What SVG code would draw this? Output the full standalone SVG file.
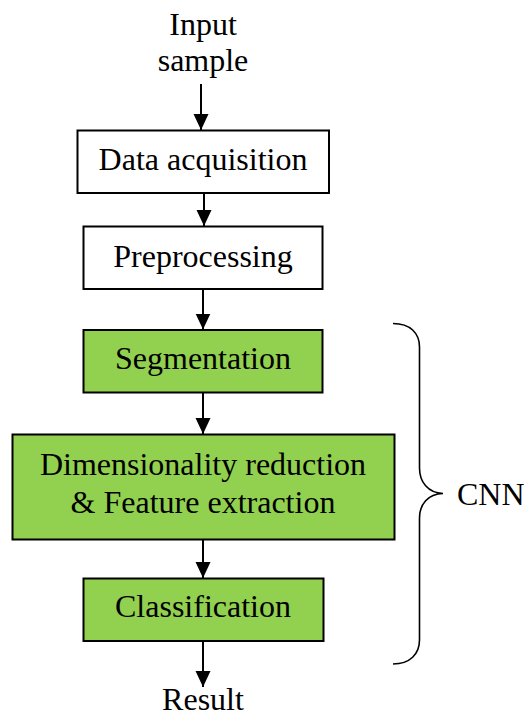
<svg xmlns="http://www.w3.org/2000/svg" width="524" height="713" viewBox="0 0 524 713">
  <defs>
    <marker id="arrow" markerUnits="userSpaceOnUse" markerWidth="16" markerHeight="16" viewBox="0 0 16 16" refX="16" refY="8" orient="auto">
      <path d="M0,0.5 L16,8 L0,15.5 z" fill="#000"/>
    </marker>
    <style>
      text { font-family: "Liberation Serif", "Times New Roman", serif; font-size: 32px; fill: #000; }
      .box { stroke: #000; stroke-width: 2; }
      .plain { fill: #fff; }
      .cnn { fill: #92D050; }
      .link { stroke: #000; stroke-width: 2; fill: none; marker-end: url(#arrow); }
      .mid { text-anchor: middle; }
    </style>
  </defs>
  <rect width="524" height="713" fill="#fff"/>

  <g id="input">
    <text class="mid" x="203" y="35">Input</text>
    <text class="mid" x="203" y="71">sample</text>
  </g>

  <g id="acquisition">
    <rect class="box plain" x="77.5" y="130.5" width="251.5" height="62.5"/>
    <text class="mid" x="203" y="170">Data acquisition</text>
  </g>

  <g id="preprocessing">
    <rect class="box plain" x="83.5" y="226.5" width="239" height="62.5"/>
    <text class="mid" x="203" y="267">Preprocessing</text>
  </g>

  <g id="segmentation">
    <rect class="box cnn" x="83.5" y="330" width="239" height="62.5"/>
    <text class="mid" x="203" y="369">Segmentation</text>
  </g>

  <g id="features">
    <rect class="box cnn" x="12.5" y="434.5" width="382" height="105"/>
    <text class="mid" x="203" y="475">Dimensionality reduction</text>
    <text class="mid" x="203" y="513">&amp; Feature extraction</text>
  </g>

  <g id="classification">
    <rect class="box cnn" x="83.5" y="578.5" width="240" height="62.5"/>
    <text class="mid" x="203" y="617">Classification</text>
  </g>

  <g id="result">
    <text class="mid" x="203" y="710">Result</text>
  </g>

  <g id="cnn-group">
    <path d="M393,323.5 C410,323.5 419.5,333 419.5,347 L419.5,468 C419.5,482 428,493 443,493.5 C428,494 419.5,504 419.5,518 L419.5,640 C419.5,654 410,664 393,664" fill="none" stroke="#000" stroke-width="1.6"/>
    <text x="457" y="505">CNN</text>
  </g>

  <g id="connectors">
    <line class="link" x1="201" y1="84" x2="201" y2="130"/>
    <line class="link" x1="204" y1="193" x2="204" y2="226"/>
    <line class="link" x1="203" y1="289" x2="203" y2="329.5"/>
    <line class="link" x1="203" y1="393" x2="203" y2="434"/>
    <line class="link" x1="203" y1="540" x2="203" y2="578"/>
    <line class="link" x1="203" y1="641" x2="203" y2="687"/>
  </g>
</svg>
